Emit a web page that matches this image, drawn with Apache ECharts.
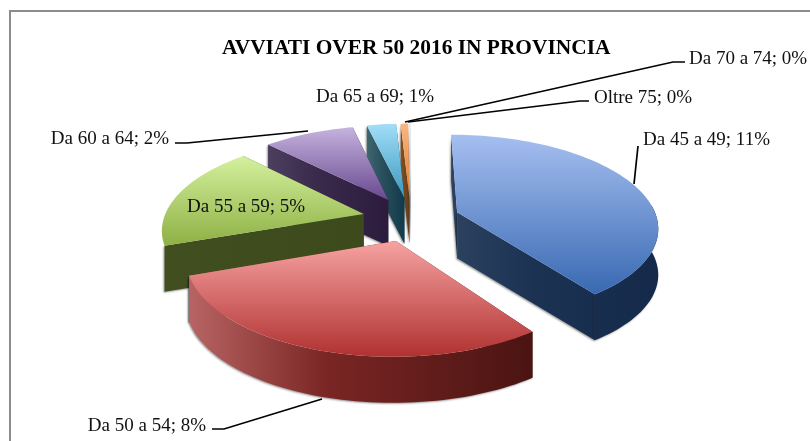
<!DOCTYPE html>
<html><head><meta charset="utf-8">
<style>html,body{margin:0;padding:0;background:#fff}#c{width:810px;height:441px}</style>
<script src="https://cdn.jsdelivr.net/npm/echarts@6/dist/echarts.min.js"></script>
</head><body><div id="c"></div>
<script>
const categories=['Da 45 a 49','Da 50 a 54','Da 55 a 59','Da 60 a 64','Da 65 a 69','Da 70 a 74','Oltre 75'];
const values=[10.8,7.95,4.9,2.33,0.75,0.19,0.04];
const percents=['11%','8%','5%','2%','1%','0%','0%'];
const topColors=[['#a6bff0','#3869b2'],['#f6a3a2','#b03130'],['#d4f09e','#8eb044'],['#c5b3de','#68488f'],['#a2def9','#3a99bd'],['#fcb57f','#df7f2e'],['#dfe9f8','#b9cde8']];
const sideColors=[['#2d4260','#1b3253','#152a4b'],['#b86464','#7a2624','#4a1412'],['#414f20','#3f4d1e','#3c4a1c'],['#4c3f5e','#3a2a4c','#2c1b3d'],['#40666f','#2a505e','#113a4a'],['#80522a','#75481f','#6a3d16'],['#a8b4c4','#98a4b6','#8494a8']];
const EXPLODE=.245;
const labelLayout=[
 {x:643,y:140,a:'left',line:[[634,184],[638,146]]},
 {x:206,y:426,a:'right',line:[[322,399],[224,429],[212,429]]},
 {x:187,y:207,a:'left',line:null},
 {x:169,y:139,a:'right',line:[[308,131],[187,143],[175,143]]},
 {x:316,y:97,a:'left',line:null},
 {x:689,y:59,a:'left',line:[[405,122],[673,62],[685,62]]},
 {x:594,y:98,a:'left',line:[[408,122],[580,101],[589,101]]}
];
const CX=411,CY=219,RX=200,RY=91,K=.15,H=46;
const total=values.reduce((a,b)=>a+b,0);
function proj(u,v,lift){const w=1+K*v;return [CX+RX*u/w,CY-RY*v/w+(lift||0)];}
function grad(c){return {type:'linear',x:0,y:0,x2:0,y2:1,colorStops:[{offset:0,color:c[0]},{offset:1,color:c[1]}]};}
function sideGrad(c,x0,x1){return {type:'linear',global:true,x:x0,y:0,x2:x1,y2:0,colorStops:[{offset:0,color:c[0]},{offset:.4,color:c[1]},{offset:1,color:c[2]}]};}
function sliceAngles(i){let s=0;for(let j=0;j<i;j++)s+=values[j];return [s/total*2*Math.PI,(s+values[i])/total*2*Math.PI];}
function renderItem(params,api){
 const i=params.dataIndex;
 const [a0,a1]=sliceAngles(i);const mid=(a0+a1)/2,e=EXPLODE;
 const ou=e*Math.sin(mid),ov=e*Math.cos(mid);
 const steps=Math.max(2,Math.ceil((a1-a0)/0.03));const arc=[];const angs=[];
 for(let s=0;s<=steps;s++){const a=a0+(a1-a0)*s/steps;angs.push(a);arc.push([ou+Math.sin(a),ov+Math.cos(a)]);}
 const ap=[ou,ov];
 const P=(q,l)=>proj(q[0],q[1],l);
 const z=Math.round((1-Math.cos(mid))*100)+1;
 const top=[P(ap,0)].concat(arc.map(q=>P(q,0)));
 const xs=top.map(p=>p[0]);const fill=sideGrad(sideColors[i],Math.min.apply(null,xs),Math.max.apply(null,xs));
 const shadow={shadowColor:'rgba(0,0,0,.4)',shadowBlur:2,shadowOffsetX:-1,shadowOffsetY:1};
 const faces=[];
 const quad=(q1,q2)=>[P(q1,0),P(q2,0),P(q2,H),P(q1,H)];
 const radial=[arc[0],arc[steps]].sort((a,b)=>b[1]-a[1]);
 radial.forEach(q=>faces.push({type:'polygon',z2:z,shape:{points:quad(ap,q)},style:Object.assign({fill:fill},shadow),silent:true}));
 const front=[];for(let s=0;s<=steps;s++){const lim=angs[s]<Math.PI?0.1:-0.33;if(Math.cos(angs[s])<lim)front.push(arc[s]);}
 if(front.length>1){
  const pts=front.map(q=>P(q,0)).concat(front.slice().reverse().map(q=>P(q,H)));
  faces.push({type:'polygon',z2:z+.1,shape:{points:pts},style:Object.assign({fill:fill},shadow),silent:true});
 }
 faces.push({type:'polygon',z2:z+.2,shape:{points:top},style:{fill:grad(topColors[i])},silent:true});
 const L=labelLayout[i];
 if(L.line)faces.push({type:'polyline',z2:500,shape:{points:L.line},style:{fill:null,stroke:'#000',lineWidth:1.7},silent:true});
 faces.push({type:'text',z2:501,x:L.x,y:L.y,style:{text:categories[i]+'; '+percents[i],fill:'#111',font:'19px "Liberation Serif"',textAlign:L.a,textVerticalAlign:'middle'},silent:true});
 return {type:'group',children:faces};
}
const chart=echarts.init(document.getElementById('c'),null,{renderer:'canvas'});
chart.setOption({
 animation:false,backgroundColor:'#fff',
 title:{text:'AVVIATI OVER 50 2016 IN PROVINCIA',left:222,top:38,padding:0,textStyle:{fontFamily:'Liberation Serif',fontWeight:'bold',fontSize:21.4,color:'#000'}},
 graphic:[{type:'rect',shape:{x:10,y:11,width:900,height:500},style:{fill:null,stroke:'#8c8c8c',lineWidth:2},silent:true}],
 series:[{type:'custom',coordinateSystem:'none',renderItem:renderItem,data:values.map(v=>[v]),silent:true}]
});
</script></body></html>
